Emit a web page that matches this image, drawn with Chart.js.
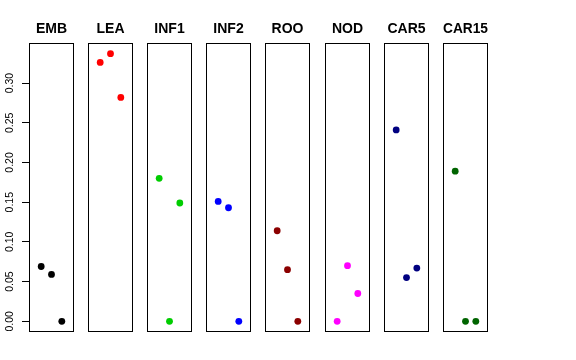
<!DOCTYPE html>
<html>
<head>
<meta charset="utf-8">
<script src="https://cdn.jsdelivr.net/npm/chart.js@4"></script>
<style>
  body { margin: 0; background: #fff; }
  #wrap { position: relative; width: 576px; height: 360px; background: #fff; }
  #wrap canvas { position: absolute; top: 0; }
</style>
</head>
<body>
<div id="wrap"></div>
<script>
// panel names and the three values shown in each panel
const panels = ['EMB', 'LEA', 'INF1', 'INF2', 'ROO', 'NOD', 'CAR5', 'CAR15'];
const xPos = [1, 2, 3];
const embVals = [0.069, 0.059, 0.000];
const leaVals = [0.326, 0.337, 0.282];
const inf1Vals = [0.180, 0.000, 0.149];
const inf2Vals = [0.151, 0.143, 0.000];
const rooVals = [0.114, 0.065, 0.000];
const nodVals = [0.000, 0.070, 0.035];
const car5Vals = [0.241, 0.055, 0.067];
const car15Vals = [0.189, 0.000, 0.000];
const panelVals = [embVals, leaVals, inf1Vals, inf2Vals, rooVals, nodVals, car5Vals, car15Vals];
const panelColors = ['#000000', '#FF0000', '#00CD00', '#0000FF', '#8B0000', '#FF00FF', '#000080', '#006400'];

// y axis ticks (only on first panel)
const yTicks = [0, 0.05, 0.10, 0.15, 0.20, 0.25, 0.30];
const yTickLabels = ['0.00', '0.05', '0.10', '0.15', '0.20', '0.25', '0.30'];

Chart.defaults.font.family = '"Liberation Sans", Arial, Helvetica, sans-serif';
Chart.defaults.color = '#000';

// draws the frame round each panel
const boxPlugin = {
    id: 'box',
    afterDraw(chart) {
        const ctx = chart.ctx;
        const a = chart.chartArea;
        ctx.save();
        ctx.strokeStyle = '#000';
        ctx.lineWidth = 1;
        ctx.strokeRect(Math.round(a.left) + 0.5, Math.round(a.top) + 0.5,
            Math.round(a.right - a.left) - 1, Math.round(a.bottom - a.top) - 1);
        ctx.restore();
    }
};

let wrap = document.getElementById('wrap');

for (let i = 0; i < panels.length; i++) {
    let first = i === 0;
    let left = Math.round(29 + i * 59.1);
    let canvas = document.createElement('canvas');
    canvas.width = first ? 74 : 45;
    canvas.height = 360;
    canvas.style.left = (first ? 0 : left) + 'px';
    wrap.appendChild(canvas);

    new Chart(canvas.getContext('2d'), {
        type: 'scatter',
        data: {
            datasets: [{
                data: xPos.map((x, j) => ({ x: x, y: panelVals[i][j] })),
                backgroundColor: panelColors[i],
                borderColor: panelColors[i],
                borderWidth: 0,
                pointRadius: 3.4
            }]
        },
        options: {
            responsive: false,
            animation: false,
            events: [],
            layout: { autoPadding: false, padding: { top: 0, bottom: 28, left: 0, right: 0 } },
            plugins: {
                legend: { display: false },
                tooltip: { enabled: false },
                title: {
                    display: true,
                    text: panels[i],
                    fullSize: false,
                    font: { size: 14, weight: 'bold' },
                    color: '#000',
                    padding: { top: 21, bottom: 5.2 }
                }
            },
            scales: {
                x: {
                    type: 'linear',
                    display: false,
                    min: -0.18,
                    max: 4.18
                },
                y: {
                    display: first,
                    min: -0.0135,
                    max: 0.3505,
                    afterBuildTicks: (scale) => {
                        scale.ticks = yTicks.map(v => ({ value: v }));
                    },
                    afterFit: (scale) => {
                        scale.width = first ? 29 : 0;
                    },
                    border: { display: false },
                    grid: {
                        drawOnChartArea: false,
                        drawTicks: true,
                        tickLength: 7,
                        tickColor: '#000'
                    },
                    ticks: {
                        autoSkip: false,
                        minRotation: 90,
                        maxRotation: 90,
                        crossAlign: 'center',
                        padding: 2,
                        font: { size: 10.5 },
                        color: '#000',
                        callback: (value, index) => yTickLabels[index]
                    }
                }
            }
        },
        plugins: [boxPlugin]
    });
}
</script>
</body>
</html>
